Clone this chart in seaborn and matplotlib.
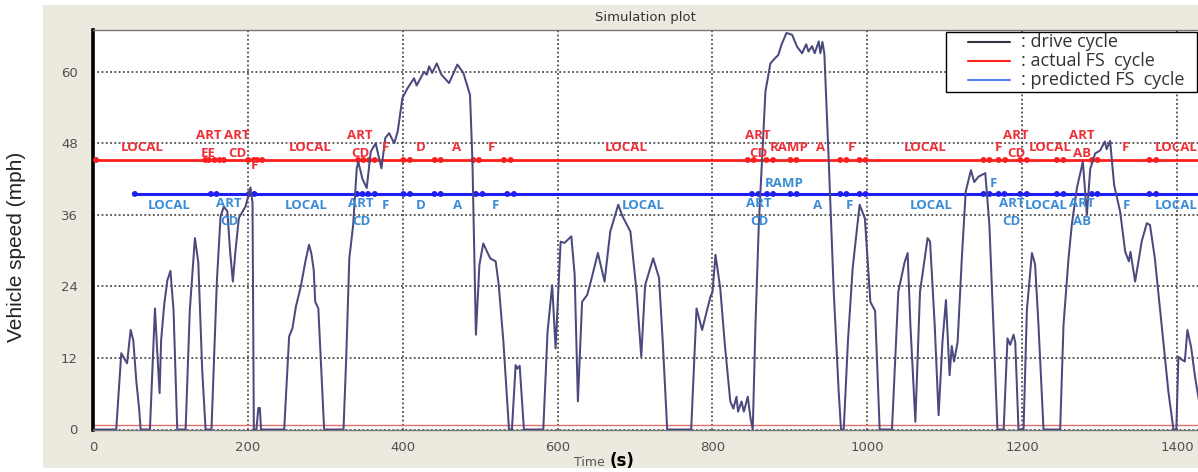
import numpy as np
import pandas as pd
import matplotlib
matplotlib.use("Agg")
import matplotlib.pyplot as plt
import seaborn as sns
from matplotlib.patches import Rectangle
from matplotlib.lines import Line2D

# ---------------- data ----------------
drive_t = [0, 30, 36.5, 44, 48.6, 52, 56, 59.5, 61.5, 73.5, 80, 83, 86, 88, 92, 96, 100, 104, 108.8,
           119.6, 125, 131.6, 136, 141, 145.4, 153, 160, 164.7, 169, 173.5, 177, 180.6, 184, 188.4,
           197, 203.4, 206, 207.7, 211, 213.5, 215.5, 217, 246.9, 253.3, 257.6, 262, 268.4, 274, 279,
           282, 285, 287, 291, 295.8, 298.5, 323.5, 327, 331, 336, 340.6, 342.6, 348, 353.5, 358.7,
           365, 372.5, 377.5, 382.4, 389, 393.5, 399.6, 406, 414.6, 418, 427.5, 431, 434, 438, 443.9,
           450, 459.8, 470.5, 478.3, 486.9, 490, 492.5, 494.5, 499, 504, 513, 520, 524, 530, 537.2,
           541, 545.8, 548, 551, 556.5, 581.5, 587, 593, 597.4, 603.9, 609, 617.7, 622, 626.2, 631.6,
           638.3, 644, 652, 660.6, 668, 678.3, 684, 694, 702, 708, 713, 723.4, 731, 736, 741.5, 772.5,
           779.4, 786.6, 797.4, 800, 803.9, 810, 816, 823, 827, 831, 833, 837.5, 840.5, 845.6, 849,
           852, 855.5, 859.8, 868.4, 874.8, 881, 885, 889, 895.5, 902.8, 909.2, 915.7, 921, 924,
           928.6, 932, 937.2, 939.4, 942, 944.5, 950, 956.6, 963, 966, 969.5, 975, 981, 990, 996.8,
           1003.9, 1010, 1015.9, 1031.8, 1040, 1048, 1052, 1055.6, 1062, 1068, 1077.8, 1081, 1087,
           1092, 1097, 1101.5, 1106.2, 1109, 1112, 1116.6, 1122, 1127, 1133.8, 1138, 1143.5, 1152.3,
           1157.6, 1162.8, 1168, 1176, 1181, 1184.5, 1188.8, 1191, 1195.2, 1201.7, 1206, 1212.5,
           1216.6, 1221, 1227.5, 1249, 1253.3, 1259.8, 1264, 1270.6, 1278.3, 1283.5, 1287.8, 1294.2,
           1300.6, 1306.7, 1309, 1313.5, 1318.7, 1326.5, 1333, 1337.7, 1339.8, 1345.8, 1354.4,
           1360.9, 1365, 1371.3, 1380, 1388.8, 1395.3, 1399, 1401.7, 1405, 1410, 1413.3, 1418, 1423,
           1428]
drive_v = [0, 0, 12.8, 11.1, 16.7, 15, 8, 3.6, 0, 0, 20.3, 13, 6.1, 15, 21, 25, 26.6, 20, 0,
           0, 20, 32.1, 28, 10, 0, 0, 25, 35.7, 37.4, 36.6, 30, 24.8, 30, 35.5,
           37.4, 40.6, 38, 0, 0, 3.6, 3.6, 0, 0, 15.6, 17, 20.6, 24, 28, 31,
           29.5, 26.8, 21.4, 20.3, 7.2, 0, 0, 12, 28.7, 34.3, 43.8, 44.9, 42, 40.5, 46.6,
           48, 43.8, 48.9, 49.7, 48, 50, 55.6, 57.2, 58.9, 57.7, 60, 59.5, 60.9, 59.8, 61.4,
           59.5, 58.1, 61.2, 59.8, 56.1, 45, 28.7, 15.9, 27.6, 31.2, 28.7, 28.2, 24.2, 14.7, 0,
           0, 10.8, 10.2, 10.7, 0, 0, 16.4, 24.2, 13.6, 31.5, 31.3, 32.4, 26, 4.7, 21.4,
           22.6, 25.4, 29.6, 24.8, 33.2, 37.7, 35.7, 33.2, 23.1, 12.2, 24.2, 28.7, 25.4, 14.2, 0, 0,
           20.3, 16.7, 22.3, 23, 29.3, 23.7, 14.2, 4.7, 3.5, 5.5, 3, 4.7, 3, 5.5, 2,
           0, 17.5, 34.3, 56.7, 61.4, 62.3, 62.8, 64.5, 66.5, 66.2, 64.2, 63.1, 64.6, 63.4,
           64.3, 63.1, 65.1, 63.1, 65, 63, 45.5, 23.1, 6.3, 0, 0, 15, 27, 37.7, 35.4,
           21.4, 19.9, 0, 0, 23.1, 28, 29.6, 17.5, 1.3, 23.1, 32.1, 31.5, 17.5,
           2.4, 14.7, 21.7, 9.1, 14, 11.4, 14.7, 28.7, 39.9, 43.5, 41.5, 42.4, 43,
           34.3, 17.5, 0, 0, 15.3, 14.2, 15.9, 14.6, 0, 0, 20, 29.6,
           27.7, 17.5, 0, 0, 17.5, 28.7, 34.3, 40.5, 44.9, 36, 43.7, 46.3,
           46.8, 48.3, 47, 48.4, 41, 36.5, 29.8, 28.2, 29.8, 24.8, 31.6,
           34.6, 34.3, 28.7, 17.5, 6.3, 0, 0, 12.2, 11.8, 11.4, 16.7, 13.9, 9,
           5]

actual_level = 45.2
predicted_level = 39.5
actual_start = 4
predicted_start = 54
actual_bounds = [4, 145, 149.5, 157, 163.5, 169, 200.4, 207.7, 212, 218.5, 342.3, 349.2, 356.5,
                 363.9, 400.9, 409.4, 441.3, 449, 491.2, 498.5, 530.7, 539.4, 845.5, 853.3, 869.7,
                 878.3, 900.6, 908.4, 965, 973, 990, 997.8, 1150, 1157.8, 1169.5, 1178, 1197.4,
                 1206, 1244.7, 1253.3, 1290, 1297.2, 1364.3, 1373]
predicted_bounds = [54, 152.3, 159.5, 201.5, 208.5, 341, 348, 355.2, 363.9, 400.9, 409.4, 441,
                    449, 494.5, 503, 535, 543.6, 851, 859.5, 870.5, 878.3, 900.6, 908.8, 965, 973,
                    990, 997.8, 1150, 1157.8, 1169.5, 1177, 1197.4, 1206, 1244.7, 1253.3, 1290,
                    1297.2, 1364.3, 1373]

actual_labels = ["LOCAL", "ART\nEE", "ART\nCD", "F", "LOCAL", "ART\nCD", "F", "D", "A", "F",
                 "LOCAL", "ART\nCD", "RAMP", "A", "F", "LOCAL", "F", "ART\nCD", "LOCAL",
                 "ART\nAB", "F", "LOCAL"]
actual_label_t = [64, 149, 186, 209, 280, 345, 378, 423.6, 469, 514, 689, 858.7, 899, 940, 979,
                  1075, 1169, 1192, 1236, 1277, 1333.5, 1398.6]
actual_label_side = ["above"] * 22
actual_label_side[3] = "below"

predicted_labels = ["LOCAL", "ART\nCD", "LOCAL", "ART\nCD", "F", "D", "A", "F", "LOCAL",
                    "ART\nCD", "RAMP", "A", "F", "LOCAL", "F", "ART\nCD", "LOCAL", "ART\nAB",
                    "F", "LOCAL"]
predicted_label_t = [98.5, 175.5, 275, 346, 378, 422.6, 471, 520, 710, 860, 892, 935.5, 977,
                     1082, 1163, 1186, 1231, 1277, 1334, 1399]
predicted_label_side = ["below"] * 20
predicted_label_side[10] = "above"
predicted_label_side[14] = "above"

x_ticks = [0, 200, 400, 600, 800, 1000, 1200, 1400]
y_ticks = [0, 12, 24, 36, 48, 60]
legend_labels = [": drive cycle", ": actual FS  cycle", ": predicted FS  cycle"]

# ---------------- styling ----------------
sns.set_theme(style="white")
plt.rcParams['font.family'] = ['DejaVu Sans']

W, H = 1198, 472
fig = plt.figure(figsize=(W / 100, H / 100), dpi=100)
fig.patch.set_facecolor('white')


def fx(p):
    return p / W


def fy(p):
    return (H - p) / H


bg = Rectangle((fx(43), fy(468)), (W - 43) / W, (468 - 5) / H,
               transform=fig.transFigure, facecolor='#ECEADF', edgecolor='none', zorder=-10)
fig.patches.append(bg)

ax_left, ax_top, ax_bottom = 93, 30, 429.5
ax = fig.add_axes([fx(ax_left), fy(ax_bottom), (W - ax_left) / W, (ax_bottom - ax_top) / H])
ax.set_zorder(1)
ax.set_facecolor('white')

XMAX = 1427
XEND = 1500

drive_color = '#4A4A7E'
red_line = '#FF1E1E'
blue_line = '#1E1EF5'
red_text = '#EE3038'
blue_text = '#3A8CD6'

# bottom thin red line
sns.lineplot(x=[0, XEND], y=[0.8, 0.8], ax=ax, color='#E07070', lw=1.0, zorder=2)

# FS lines
sns.lineplot(x=[actual_start, XEND], y=[actual_level] * 2, ax=ax, color=red_line, lw=2.0, zorder=2)
sns.lineplot(x=[predicted_start, XEND], y=[predicted_level] * 2, ax=ax, color=blue_line, lw=2.2, zorder=2)
sns.scatterplot(x=actual_bounds, y=[actual_level] * len(actual_bounds), ax=ax, color=red_line,
                s=18, edgecolor='none', zorder=3)
sns.scatterplot(x=predicted_bounds, y=[predicted_level] * len(predicted_bounds), ax=ax,
                color=blue_line, s=18, edgecolor='none', zorder=3)

# drive cycle
df_drive = pd.DataFrame({'t': drive_t, 'v': drive_v})
sns.lineplot(data=df_drive, x='t', y='v', ax=ax, color=drive_color, lw=1.45, sort=False,
             estimator=None, zorder=4)

lab_font = dict(family='Open Sans', weight='bold', size=9.5)


def put_labels(labels, times, sides, level, color, off):
    for lab, t, side in zip(labels, times, sides):
        lines = lab.split("\n")
        offs = off[(side, len(lines))]
        for ln, o in zip(lines, offs):
            ax.annotate(ln, xy=(t, level), xytext=(0, o), textcoords='offset points',
                        ha='center', va='center', color=color, zorder=5, **lab_font)


px = 0.72  # points per pixel at 100 dpi
red_off = {("above", 1): [12 * px], ("above", 2): [24.7 * px, 6.2 * px], ("below", 1): [-5.7 * px]}
blue_off = {("below", 1): [-11.3 * px], ("below", 2): [-9.3 * px, -27.7 * px], ("above", 1): [10.7 * px]}
put_labels(actual_labels, actual_label_t, actual_label_side, actual_level, red_text, red_off)
put_labels(predicted_labels, predicted_label_t, predicted_label_side, predicted_level, blue_text, blue_off)

# axes
ax.set_xlim(0, XMAX)
ax.set_ylim(0, 67)
ax.set_xticks(x_ticks)
ax.set_xticklabels([str(v) for v in x_ticks])
ax.set_yticks(y_ticks)
ax.set_yticklabels([str(v) for v in y_ticks])
ax.tick_params(axis='both', length=0, labelsize=9.5, labelcolor='#505050')
ax.tick_params(axis='x', pad=8)
ax.tick_params(axis='y', pad=11)
ax.set_xlabel('')
ax.set_ylabel('')
ax.grid(True, linestyle=(0, (1.2, 1.6)), color='#303030', lw=1.1, zorder=1)
ax.set_axisbelow(True)
ax.spines['left'].set_color('black')
ax.spines['left'].set_linewidth(2.6)
ax.spines['top'].set_color('#777777')
ax.spines['top'].set_linewidth(1.0)
ax.spines['bottom'].set_color('#777777')
ax.spines['bottom'].set_linewidth(1.0)
ax.spines['right'].set_visible(False)

# legend (drawn as a box with sample lines and texts)
legend_colors = ['#333340', '#FF2020', '#5080F0']
box = Rectangle((fx(946), fy(92)), (1197 - 946) / W, (92 - 32) / H, transform=fig.transFigure,
                facecolor='white', edgecolor='black', lw=1.0, zorder=20)
fig.add_artist(box)
for i, (lab, col) in enumerate(zip(legend_labels, legend_colors)):
    yy = 42 + 19 * i
    fig.add_artist(Line2D([fx(968), fx(1010)], [fy(yy), fy(yy)], transform=fig.transFigure,
                          color=col, lw=1.5, zorder=21))
    fig.text(fx(1021), fy(yy), lab, ha='left', va='center', size=13, family='Open Sans',
             color='#333333', zorder=21)

# texts
fig.text(645 / W, fy(17), 'Simulation plot', ha='center', va='center', size=9.5, color='#333333')
fig.text(589 / W, fy(463), 'Time', ha='center', va='center', size=9, color='#555555')
fig.text(622 / W, fy(461), '(s)', ha='center', va='center', size=12, weight='bold', color='black')
fig.text(fx(17), fy(247), 'Vehicle speed (mph)', ha='center', va='center', rotation=90,
         size=15, family='Liberation Sans', color='#222222')

fig.savefig('out.png', dpi=100, facecolor=fig.get_facecolor())
